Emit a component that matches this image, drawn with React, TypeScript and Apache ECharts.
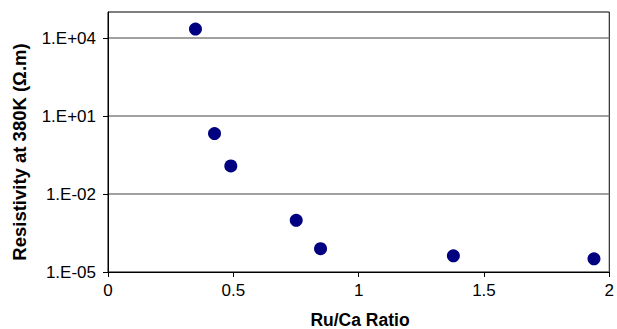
import React, { useEffect, useRef } from 'react';
import * as echarts from 'echarts';

const ruCaRatio = [0.349, 0.425, 0.49, 0.751, 0.848, 1.378, 1.939];
const resistivity = [2.2e4, 2.1, 0.12, 9.7e-4, 7.9e-5, 4.2e-5, 3.2e-5];
const xTickValues = [0, 0.5, 1, 1.5, 2];
const yTickExponents = [-5, -2, 1, 4];
const yTickLabels = ['1.E-05', '1.E-02', '1.E+01', '1.E+04'];
const xTitle = 'Ru/Ca Ratio';
const yTitle = 'Resistivity at 380K (Ω.m)';

const FONT = '"Liberation Sans", Arial, sans-serif';

export default function App() {
  const ref = useRef<HTMLDivElement>(null);
  useEffect(() => {
    if (!ref.current) return;
    const chart = echarts.init(ref.current, undefined, { renderer: 'svg' });
    const labelMap: Record<string, string> = {};
    yTickExponents.forEach((e, i) => (labelMap[String(e)] = yTickLabels[i]));
    chart.setOption({
      animation: false,
      backgroundColor: '#fff',
      grid: {
        left: 108,
        right: 6,
        top: 12,
        bottom: 57,
        show: true,
        borderColor: '#000',
        borderWidth: 1,
        backgroundColor: 'transparent',
      },
      xAxis: {
        type: 'value',
        min: 0,
        max: 2,
        interval: 0.5,
        axisLine: { show: true, onZero: false, lineStyle: { color: '#000', width: 1 } },
        axisTick: { show: true, inside: false, length: 5, lineStyle: { color: '#000' }, customValues: xTickValues },
        axisLabel: {
          color: '#000',
          fontSize: 17,
          fontFamily: FONT,
          margin: 10,
          customValues: xTickValues,
          formatter: (v: number) => String(v),
        },
        splitLine: { show: false },
      },
      yAxis: {
        type: 'value',
        min: -5,
        max: 5,
        interval: 1,
        axisLine: { show: true, onZero: false, lineStyle: { color: '#000', width: 1 } },
        axisTick: { show: true, inside: false, length: 5, lineStyle: { color: '#000' }, customValues: yTickExponents },
        axisLabel: {
          color: '#000',
          fontSize: 17,
          fontFamily: FONT,
          margin: 12,
          customValues: yTickExponents,
          formatter: (v: number) => labelMap[String(Math.round(v))] ?? '',
        },
        splitLine: { show: true, lineStyle: { color: '#808080', width: 1.5 } },
      },
      graphic: [
        {
          type: 'text',
          x: 360,
          y: 320,
          style: {
            text: xTitle,
            fontSize: 17.5,
            fontWeight: 'bold',
            fontFamily: FONT,
            fill: '#000',
            align: 'center',
            verticalAlign: 'middle',
          },
        },
        {
          type: 'text',
          x: 19,
          y: 152,
          rotation: Math.PI / 2,
          style: {
            text: yTitle,
            fontSize: 18.5,
            fontWeight: 'bold',
            fontFamily: FONT,
            fill: '#000',
            align: 'center',
            verticalAlign: 'middle',
          },
        },
      ],
      series: [
        {
          type: 'scatter',
          symbol: 'circle',
          symbolSize: 13,
          itemStyle: { color: '#000080', opacity: 1 },
          data: ruCaRatio.map((x, i) => [x, Math.log10(resistivity[i])]),
        },
      ],
    });
    return () => chart.dispose();
  }, []);
  return <div ref={ref} style={{ position: 'fixed', left: 0, top: 0, width: 617, height: 329 }} />;
}
